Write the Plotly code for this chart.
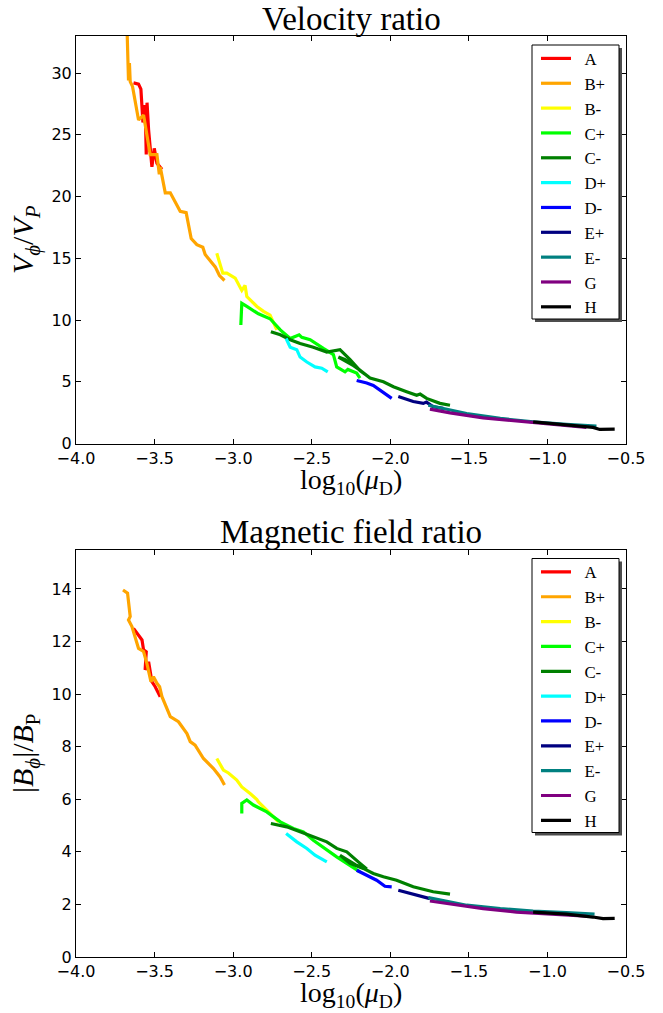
import plotly.graph_objects as go

# ---------------- data ----------------
series_names = ["A", "B+", "B-", "C+", "C-", "D+", "D-", "E+", "E-", "G", "H"]
series_colors = ["#ff0000", "#ffa500", "#ffff00", "#00ff00", "#008000", "#00ffff",
                 "#0000ff", "#000080", "#008080", "#800080", "#000000"]

# Velocity ratio panel
vel_A_x = [-3.634, -3.602, -3.587, -3.574, -3.560, -3.553, -3.548, -3.538, -3.517, -3.502, -3.485, -3.453]
vel_A_y = [29.2, 29.1, 28.7, 26.0, 27.4, 23.4, 27.6, 25.4, 22.4, 23.9, 22.7, 22.2]
vel_Bp_x = [-3.675, -3.668, -3.666, -3.660, -3.655, -3.640, -3.602, -3.570, -3.528, -3.485, -3.470,
            -3.464, -3.432, -3.400, -3.337, -3.299, -3.284, -3.267, -3.231, -3.193, -3.178, -3.114,
            -3.087, -3.055]
vel_Bp_y = [33.5, 30.9, 29.4, 30.8, 29.3, 28.9, 26.2, 26.6, 23.4, 23.4, 21.8, 22.4, 20.3, 20.3,
            18.8, 18.7, 17.6, 16.6, 16.1, 15.9, 15.3, 14.3, 13.6, 13.2]
vel_Bm_x = [-3.104, -3.066, -3.040, -2.987, -2.945, -2.924, -2.913, -2.881, -2.849, -2.807, -2.765, -2.722]
vel_Bm_y = [15.4, 13.8, 13.8, 13.4, 12.4, 12.8, 11.9, 11.5, 11.1, 10.7, 10.4, 9.2]
vel_Cp_x = [-2.951, -2.947, -2.945, -2.913, -2.839, -2.765, -2.700, -2.637, -2.580, -2.563, -2.510,
            -2.426, -2.362, -2.341, -2.288, -2.270, -2.214, -2.193]
vel_Cp_y = [9.6, 10.3, 11.35, 11.1, 10.5, 10.1, 9.2, 8.5, 8.8, 8.6, 8.4, 7.7, 7.2, 6.2, 5.8, 6.0, 5.7, 5.3]
vel_Cm_x = [-2.760, -2.700, -2.637, -2.574, -2.490, -2.404, -2.320, -2.256, -2.193, -2.150, -2.220,
            -2.330, -2.290, -2.200, -2.129, -2.044, -1.980, -1.896, -1.832, -1.810, -1.769, -1.684,
            -1.620]
vel_Cm_y = [9.05, 8.8, 8.4, 8.1, 7.8, 7.4, 7.6, 6.8, 5.9, 5.5, 6.2, 7.0, 6.8, 6.0, 5.3, 5.0, 4.6,
            4.2, 3.9, 4.0, 3.65, 3.25, 3.1]
vel_Dp_x = [-2.663, -2.637, -2.595, -2.574, -2.531, -2.479, -2.436, -2.398]
vel_Dp_y = [8.5, 7.8, 7.6, 7.0, 6.6, 6.2, 6.1, 5.8]
vel_Dm_x = [-2.214, -2.150, -2.108, -2.055, -1.991]
vel_Dm_y = [5.1, 4.9, 4.7, 4.2, 3.65]
vel_Ep_x = [-1.949, -1.854, -1.790, -1.770, -1.727, -1.663]
vel_Ep_y = [3.8, 3.4, 3.25, 3.35, 2.97, 2.84]
vel_Em_x = [-1.758, -1.514, -1.300, -1.091, -0.879, -0.688]
vel_Em_y = [3.1, 2.43, 2.03, 1.75, 1.56, 1.40]
vel_G_x = [-1.748, -1.620, -1.409, -1.197, -0.985, -0.752]
vel_G_y = [2.78, 2.48, 2.08, 1.83, 1.56, 1.30]
vel_H_x = [-1.091, -0.879, -0.710, -0.667, -0.572]
vel_H_y = [1.75, 1.48, 1.30, 1.14, 1.16]

# Magnetic field ratio panel
mag_A_x = [-3.634, -3.602, -3.580, -3.570, -3.553, -3.560, -3.538, -3.517, -3.496, -3.464]
mag_A_y = [12.5, 12.25, 12.06, 11.68, 11.61, 10.92, 11.23, 10.47, 10.28, 9.9]
mag_Bp_x = [-3.701, -3.672, -3.655, -3.666, -3.644, -3.634, -3.602, -3.570, -3.549, -3.523, -3.507,
            -3.485, -3.468, -3.453, -3.400, -3.348, -3.294, -3.273, -3.242, -3.189, -3.125, -3.083,
            -3.055]
mag_Bp_y = [13.96, 13.84, 12.95, 12.82, 12.57, 12.38, 11.74, 11.62, 11.17, 10.47, 10.66, 10.41,
            10.28, 9.9, 9.14, 8.95, 8.5, 8.19, 8.06, 7.55, 7.17, 6.85, 6.54]
mag_Bm_x = [-3.104, -3.062, -3.030, -2.998, -2.977, -2.945, -2.934, -2.892, -2.849, -2.839, -2.786, -2.712]
mag_Bm_y = [7.55, 7.11, 7.0, 6.85, 6.73, 6.47, 6.41, 6.22, 5.99, 5.9, 5.59, 5.14]
mag_Cp_x = [-2.945, -2.945, -2.913, -2.871, -2.786, -2.700, -2.617, -2.553, -2.490, -2.404, -2.341,
            -2.277, -2.193]
mag_Cp_y = [5.46, 5.84, 5.97, 5.78, 5.52, 5.14, 4.89, 4.76, 4.44, 4.06, 3.81, 3.56, 3.24]
mag_Cm_x = [-2.760, -2.659, -2.574, -2.490, -2.404, -2.341, -2.277, -2.200, -2.150, -2.220, -2.320,
            -2.256, -2.172, -2.108, -2.044, -1.960, -1.854, -1.727, -1.620]
mag_Cm_y = [5.08, 4.95, 4.76, 4.57, 4.38, 4.13, 4.0, 3.6, 3.35, 3.5, 3.87, 3.56, 3.37, 3.18, 3.05,
            2.92, 2.67, 2.48, 2.39]
mag_Dp_x = [-2.663, -2.595, -2.531, -2.479, -2.404]
mag_Dp_y = [4.70, 4.38, 4.13, 3.87, 3.62]
mag_Dm_x = [-2.214, -2.150, -2.087, -2.034, -1.991]
mag_Dm_y = [3.30, 3.11, 2.92, 2.69, 2.67]
mag_Ep_x = [-1.949, -1.832, -1.810, -1.748]
mag_Ep_y = [2.54, 2.35, 2.33, 2.22]
mag_Em_x = [-1.758, -1.514, -1.300, -1.091, -0.879, -0.700]
mag_Em_y = [2.26, 1.97, 1.84, 1.75, 1.69, 1.63]
mag_G_x = [-1.748, -1.620, -1.409, -1.197, -0.985, -0.752]
mag_G_y = [2.13, 2.01, 1.84, 1.71, 1.63, 1.55]
mag_H_x = [-1.091, -0.879, -0.710, -0.646, -0.572]
mag_H_y = [1.71, 1.63, 1.52, 1.46, 1.47]

x_ticks = [-4.0, -3.5, -3.0, -2.5, -2.0, -1.5, -1.0, -0.5]
vel_y_ticks = [0, 5, 10, 15, 20, 25, 30]
mag_y_ticks = [0, 2, 4, 6, 8, 10, 12, 14]

vel_series = [(vel_A_x, vel_A_y), (vel_Bp_x, vel_Bp_y), (vel_Bm_x, vel_Bm_y), (vel_Cp_x, vel_Cp_y),
              (vel_Cm_x, vel_Cm_y), (vel_Dp_x, vel_Dp_y), (vel_Dm_x, vel_Dm_y), (vel_Ep_x, vel_Ep_y),
              (vel_Em_x, vel_Em_y), (vel_G_x, vel_G_y), (vel_H_x, vel_H_y)]
mag_series = [(mag_A_x, mag_A_y), (mag_Bp_x, mag_Bp_y), (mag_Bm_x, mag_Bm_y), (mag_Cp_x, mag_Cp_y),
              (mag_Cm_x, mag_Cm_y), (mag_Dp_x, mag_Dp_y), (mag_Dm_x, mag_Dm_y), (mag_Ep_x, mag_Ep_y),
              (mag_Em_x, mag_Em_y), (mag_G_x, mag_G_y), (mag_H_x, mag_H_y)]

# ---------------- figure ----------------
SERIF = "Liberation Serif"
SANS = "DejaVu Sans"

fig = go.Figure()
for name, color, (xs, ys) in zip(series_names, series_colors, vel_series):
    fig.add_trace(go.Scatter(x=xs, y=ys, mode="lines", name="&nbsp;&nbsp;" + name,
                             line=dict(color=color, width=3.2),
                             xaxis="x", yaxis="y", legend="legend"))
for name, color, (xs, ys) in zip(series_names, series_colors, mag_series):
    fig.add_trace(go.Scatter(x=xs, y=ys, mode="lines", name="&nbsp;&nbsp;" + name,
                             line=dict(color=color, width=3.2),
                             xaxis="x2", yaxis="y2", legend="legend2"))

W, H = 663, 1013
ML, MR, MT, MB = 76, 37, 36, 56
PW = W - ML - MR
PH = H - MT - MB


def px_x(p):
    return (p - ML) / PW


def px_y(p):
    return (H - MB - p) / PH


top_dom = [px_y(443.5), 1.0]
bot_dom = [0.0, px_y(549.5)]

axis_common = dict(showline=True, linecolor="black", linewidth=1, mirror="ticks",
                   ticks="inside", ticklen=5, tickwidth=1, tickcolor="black",
                   showgrid=False, zeroline=False, automargin=False,
                   tickfont=dict(family=SANS, size=16, color="black"))

xtext = [f"{v:.1f}".replace("-", "\u2212") for v in x_ticks]
xlab = "log<sub>10</sub>(<i>μ</i><sub>D</sub>)"
title_font = dict(family=SERIF, size=30, color="black")

# legend frame + shadow (pixel geometry of the reference)
LEG_L, LEG_R, LEG_H = 532, 619, 274
leg_tops = [45, 558.5]
SH = 3
shapes = []
for t in leg_tops:
    shapes.append(dict(type="rect", xref="paper", yref="paper", layer="above",
                       x0=px_x(LEG_L + SH), x1=px_x(LEG_R + SH),
                       y0=px_y(t + LEG_H + SH), y1=px_y(t + SH),
                       fillcolor="#4d4d4d", line=dict(width=0)))
    shapes.append(dict(type="rect", xref="paper", yref="paper", layer="above",
                       x0=px_x(LEG_L), x1=px_x(LEG_R),
                       y0=px_y(t + LEG_H), y1=px_y(t),
                       fillcolor="white", line=dict(color="black", width=1)))

legend_common = dict(xanchor="left", yanchor="top", bgcolor="rgba(0,0,0,0)",
                     borderwidth=0, itemwidth=30, tracegroupgap=0,
                     font=dict(family=SERIF, size=16.8, color="black"))

fig.update_layout(
    template="none",
    width=W, height=H,
    margin=dict(l=ML, r=MR, t=MT, b=MB),
    paper_bgcolor="white", plot_bgcolor="white",
    xaxis=dict(axis_common, domain=[0, 1], anchor="y", range=[-4.0, -0.5],
               tickvals=x_ticks, ticktext=xtext),
    yaxis=dict(axis_common, domain=top_dom, anchor="x", range=[0, 33],
               tickvals=vel_y_ticks,
               title=dict(text="<i>V</i><sub><i>ϕ</i></sub>/<i>V</i><sub><i>P</i></sub>",
                          font=title_font, standoff=8)),
    xaxis2=dict(axis_common, domain=[0, 1], anchor="y2", range=[-4.0, -0.5],
                tickvals=x_ticks, ticktext=xtext),
    yaxis2=dict(axis_common, domain=bot_dom, anchor="x2", range=[0, 15.5],
                tickvals=mag_y_ticks,
                title=dict(text="|<i>B</i><sub><i>ϕ</i></sub>|/<i>B</i><sub>P</sub>",
                           font=title_font, standoff=8)),
    legend=dict(legend_common, x=px_x(536), y=px_y(leg_tops[0] - 4)),
    legend2=dict(legend_common, x=px_x(536), y=px_y(leg_tops[1] - 4)),
    showlegend=True,
    shapes=shapes,
    annotations=[
        dict(text="Velocity ratio", xref="paper", yref="paper", x=0.5, y=px_y(19),
             xanchor="center", yanchor="middle", showarrow=False,
             font=dict(family=SERIF, size=33, color="black")),
        dict(text="Magnetic field ratio", xref="paper", yref="paper", x=0.5, y=px_y(532),
             xanchor="center", yanchor="middle", showarrow=False,
             font=dict(family=SERIF, size=33, color="black")),
        dict(text=xlab, xref="paper", yref="paper", x=0.5, y=px_y(481),
             xanchor="center", yanchor="middle", showarrow=False,
             font=dict(family=SERIF, size=28, color="black")),
        dict(text=xlab, xref="paper", yref="paper", x=0.5, y=px_y(994),
             xanchor="center", yanchor="middle", showarrow=False,
             font=dict(family=SERIF, size=28, color="black")),
    ],
)

# the page's default 8px body margin would shift the whole figure; remove it
fig.write_html("out.html", config={"displayModeBar": False},
               post_script="document.body.style.margin='0px';")
